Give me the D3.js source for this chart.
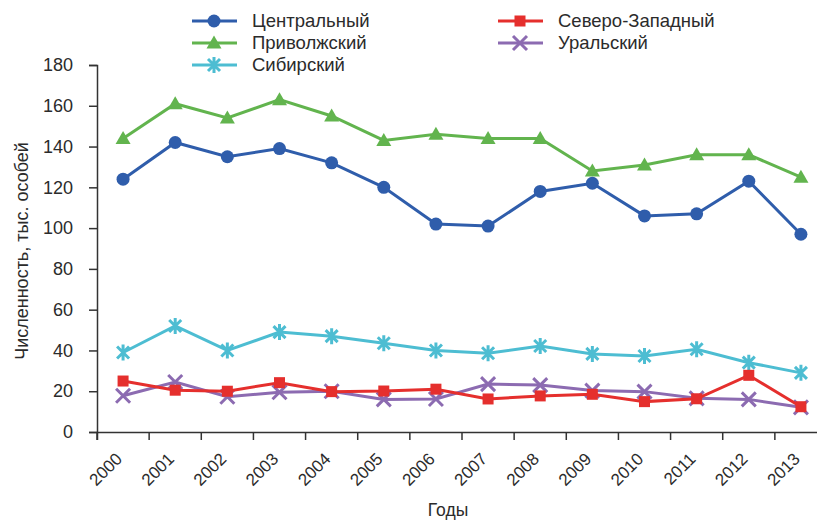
<!DOCTYPE html>
<html>
<head>
<meta charset="utf-8">
<script src="https://cdn.jsdelivr.net/npm/d3@7"></script>
<style>
  body { margin: 0; background: #fff; }
  svg { font-family: "Liberation Sans", Arial, sans-serif; }
</style>
</head>
<body>
<script>
const years = ['2000', '2001', '2002', '2003', '2004', '2005', '2006', '2007', '2008', '2009', '2010', '2011', '2012', '2013']
const central = [124, 142, 135, 139, 132, 120, 102, 101, 118, 122, 106, 107, 123, 97]
const volga = [144, 161, 154, 163, 155, 143, 146, 144, 144, 128, 131, 136, 136, 125]
const siberia = [39, 52, 40, 49, 47, 43.5, 40, 38.6, 42.2, 38.3, 37.3, 40.6, 34, 29]
const northwest = [25, 20.5, 20, 24.2, 19.8, 20.1, 21, 16.2, 17.7, 18.5, 14.9, 16.3, 27.8, 12.4]
const ural = [17.8, 24.5, 17.3, 19.5, 20, 16, 16.2, 23.5, 23, 20.3, 19.8, 16.5, 16, 12.1]
const yTicks = [0, 20, 40, 60, 80, 100, 120, 140, 160, 180]

const series = [
    { name: 'Центральный', values: central, color: '#2f5dab', marker: 'circle' },
    { name: 'Приволжский', values: volga, color: '#62b44e', marker: 'triangle' },
    { name: 'Сибирский', values: siberia, color: '#4dbdd2', marker: 'asterisk' },
    { name: 'Северо-Западный', values: northwest, color: '#e52f2d', marker: 'square' },
    { name: 'Уральский', values: ural, color: '#8c6bb1', marker: 'cross' }
]
// draw order so that red sits above purple where they overlap
const drawOrder = [1, 0, 2, 4, 3]

const svg = d3.select('body').append('svg')
    .attr('width', 817)
    .attr('height', 520)

const x = d3.scaleBand().domain(years).range([97, 827])
const y = d3.scaleLinear().domain([0, 180]).range([432, 65])

// axes
const yAxis = svg.append('g')
    .attr('transform', 'translate(97,0)')
    .call(d3.axisLeft(y).tickValues(yTicks).tickSize(8).tickPadding(16))
yAxis.selectAll('text').style('font-size', '18px').attr('fill', '#2b2b2b')

const xAxis = svg.append('g')
    .attr('transform', 'translate(0,432)')
    .call(d3.axisBottom(x).tickSize(8).tickFormat(''))
xAxis.selectAll('.tick').attr('transform', d => 'translate(' + x(d) + ',0)')

svg.selectAll('.domain, .tick line').attr('stroke', '#333').attr('stroke-width', 1.5)

svg.append('g').selectAll('text')
    .data(years)
    .enter()
    .append('text')
    .attr('transform', d => 'translate(' + (x(d) + x.bandwidth() / 2) + ',460) rotate(-45)')
    .attr('text-anchor', 'end')
    .style('font-size', '17px')
    .attr('fill', '#2b2b2b')
    .text(d => d)

svg.append('text')
    .attr('x', 448)
    .attr('y', 516)
    .attr('text-anchor', 'middle')
    .style('font-size', '17.5px')
    .attr('fill', '#2b2b2b')
    .text('Годы')

svg.append('text')
    .attr('transform', 'translate(28,251) rotate(-90)')
    .attr('text-anchor', 'middle')
    .style('font-size', '18px')
    .attr('fill', '#2b2b2b')
    .text('Численность, тыс. особей')

function drawMarker(g, type, color) {
    if (type === 'circle') {
        g.append('circle').attr('r', 6.5).attr('fill', color)
    } else if (type === 'triangle') {
        g.append('path').attr('d', 'M0,-7.5L7.5,5.5L-7.5,5.5Z').attr('fill', color)
    } else if (type === 'square') {
        g.append('rect').attr('x', -5.5).attr('y', -5.5).attr('width', 11).attr('height', 11).attr('fill', color)
    } else if (type === 'cross') {
        g.append('path').attr('d', 'M-7,-7L7,7M-7,7L7,-7').attr('stroke', color).attr('stroke-width', 3)
    } else if (type === 'asterisk') {
        g.append('path').attr('d', 'M-6,-6L6,6M-6,6L6,-6M0,-8L0,8').attr('stroke', color).attr('stroke-width', 3)
    }
}

const line = d3.line()
    .x((d, i) => x(years[i]) + x.bandwidth() / 2)
    .y(d => y(d))

drawOrder.forEach(function(k) {
    const s = series[k]
    svg.append('path')
        .datum(s.values)
        .attr('fill', 'none')
        .attr('stroke', s.color)
        .attr('stroke-width', 3)
        .attr('d', line)
    s.values.forEach(function(v, i) {
        const g = svg.append('g')
            .attr('transform', 'translate(' + (x(years[i]) + x.bandwidth() / 2) + ',' + y(v) + ')')
        drawMarker(g, s.marker, s.color)
    })
})

// legend
const legendPos = [[192, 21], [192, 43], [192, 65], [498, 21], [498, 43]]
series.forEach(function(s, k) {
    const lx = legendPos[k][0], ly = legendPos[k][1]
    svg.append('line')
        .attr('x1', lx).attr('x2', lx + 45)
        .attr('y1', ly).attr('y2', ly)
        .attr('stroke', s.color).attr('stroke-width', 3)
    const g = svg.append('g').attr('transform', 'translate(' + (lx + 22) + ',' + ly + ')')
    drawMarker(g, s.marker, s.color)
    svg.append('text')
        .attr('x', lx + 60)
        .attr('y', ly)
        .attr('dy', '0.35em')
        .style('font-size', '18.5px')
        .attr('fill', '#2b2b2b')
        .text(s.name)
})
</script>
</body>
</html>
